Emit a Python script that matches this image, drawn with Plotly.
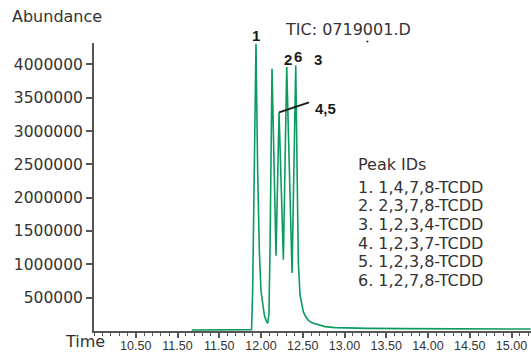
import plotly.graph_objects as go

# ---------------- data ----------------
time_min = [11.17, 11.50, 11.80, 11.887, 11.90, 11.92, 11.94, 11.96, 11.98,
            12.00, 12.02, 12.04, 12.06, 12.08, 12.095, 12.10, 12.108, 12.132, 12.18, 12.216,
            12.268, 12.308, 12.372, 12.416, 12.44, 12.447, 12.467, 12.485, 12.507,
            12.533, 12.566, 12.61, 12.686, 12.766, 12.886, 13.05, 13.285, 13.72, 14.50, 15.23]
abundance = [15000, 15000, 15000, 20000, 600000, 2400000, 4310000, 2400000, 1200000,
             600000, 380000, 240000, 160000, 115000, 250000, 600000, 1230000, 3934000, 1130000, 3280000,
             1070000, 3960000, 870000, 3985000, 1530000, 1030000, 540000, 400000, 290000,
             220000, 164000, 122000, 89000, 66000, 50000, 44000, 40000, 35000, 30000, 30000]

y_tick_vals = [500000, 1000000, 1500000, 2000000, 2500000, 3000000, 3500000, 4000000]
y_tick_text = ["500000", "1000000", "1500000", "2000000", "2500000", "3000000", "3500000", "4000000"]
x_tick_vals = [10.5, 11.0, 11.5, 12.0, 12.5, 13.0, 13.5, 14.0, 14.5, 15.0]
x_tick_text = ["10.50", "11.50", "11.50", "12.00", "12.50", "13.00", "13.50", "14.00", "14.50", "15.00"]

peak_labels = ["1", "2", "6", "3", "4,5"]
peak_ids_title = "Peak IDs"
peak_ids = ["1. 1,4,7,8-TCDD", "2. 2,3,7,8-TCDD", "3. 1,2,3,4-TCDD",
            "4. 1,2,3,7-TCDD", "5. 1,2,3,8-TCDD", "6. 1,2,7,8-TCDD"]
tic_title = "TIC: 0719001.D"

# ---------------- layout helpers ----------------
W, H = 531, 353
L, R, T, B = 94, 0, 43, 20
PW, PH = W - L - R, H - T - B

def px(x):
    return (x - L) / PW

def py(y):
    return (H - B - y) / PH

TXT = "#333333"
AX = "#555555"
GREEN = "#0b9b5f"
FONT = "DejaVu Sans"

fig = go.Figure()
fig.add_trace(go.Scatter(x=time_min, y=abundance, mode="lines",
                         line=dict(color=GREEN, width=1.6), showlegend=False,
                         hoverinfo="skip", cliponaxis=False))

annotations = []

def ann(text, x, y, size=16, color=TXT, xanchor="left", family=FONT, bold=False):
    annotations.append(dict(
        text=f"<b>{text}</b>" if bold else text, x=px(x), y=py(y), xref="paper", yref="paper",
        xanchor=xanchor, yanchor="middle", showarrow=False,
        font=dict(family=family, size=size, color=color)))

ann("Abundance", 10, 16)
ann("Time", 63, 343.5)
ann(tic_title, 283, 29)

lab_pos = [(256, 35), (287.5, 60), (298, 57), (318, 60), (325, 109)]
for t, (x, y) in zip(peak_labels, lab_pos):
    ann(t, x, y, size=15, color="#1a1a1a", xanchor="center", family="Liberation Sans", bold=True)

ann(peak_ids_title, 356, 165)
for i, t in enumerate(peak_ids):
    ann(t, 356, 188 + i * 18.8)

# leader line for peaks 4,5 (from the apex of that peak to the label)
i45 = 19
shapes = [
    dict(type="line", xref="x", yref="y", x0=time_min[i45], y0=abundance[i45],
         x1=12.575, y1=3430000, line=dict(color="#1a1a1a", width=1.8)),
    dict(type="line", xref="paper", yref="paper", x0=px(366.5), y0=py(41.3),
         x1=px(368.3), y1=py(41.8), line=dict(color="#1a1a1a", width=1.5)),
]

fig.update_layout(
    width=W, height=H, margin=dict(l=L, r=R, t=T, b=B, pad=0),
    paper_bgcolor="white", plot_bgcolor="white",
    annotations=annotations, shapes=shapes,
    xaxis=dict(range=[10.0, 10.0 + PW / 83.5], showgrid=False, zeroline=False,
               showline=True, linecolor=AX, linewidth=2,
               ticks="outside", ticklen=5, tickwidth=1.5, tickcolor=AX,
               tickvals=x_tick_vals, ticktext=x_tick_text, ticklabelstandoff=-3,
               tickfont=dict(family="Liberation Sans", size=12.5, color=TXT),
               minor=dict(dtick=0.1, tick0=10.0, ticks="outside", ticklen=2.5,
                          tickwidth=1.2, tickcolor=AX, showgrid=False)),
    yaxis=dict(range=[0, 4322000], showgrid=False, zeroline=False,
               showline=True, linecolor=AX, linewidth=2,
               ticks="outside", ticklen=6, tickwidth=1.5, tickcolor=AX,
               tickvals=y_tick_vals, ticktext=y_tick_text,
               tickfont=dict(family=FONT, size=15.5, color=TXT)),
)

fig.write_html("out.html", config={"displayModeBar": False},
               post_script="document.body.style.margin='0';document.body.style.overflow='hidden';")
